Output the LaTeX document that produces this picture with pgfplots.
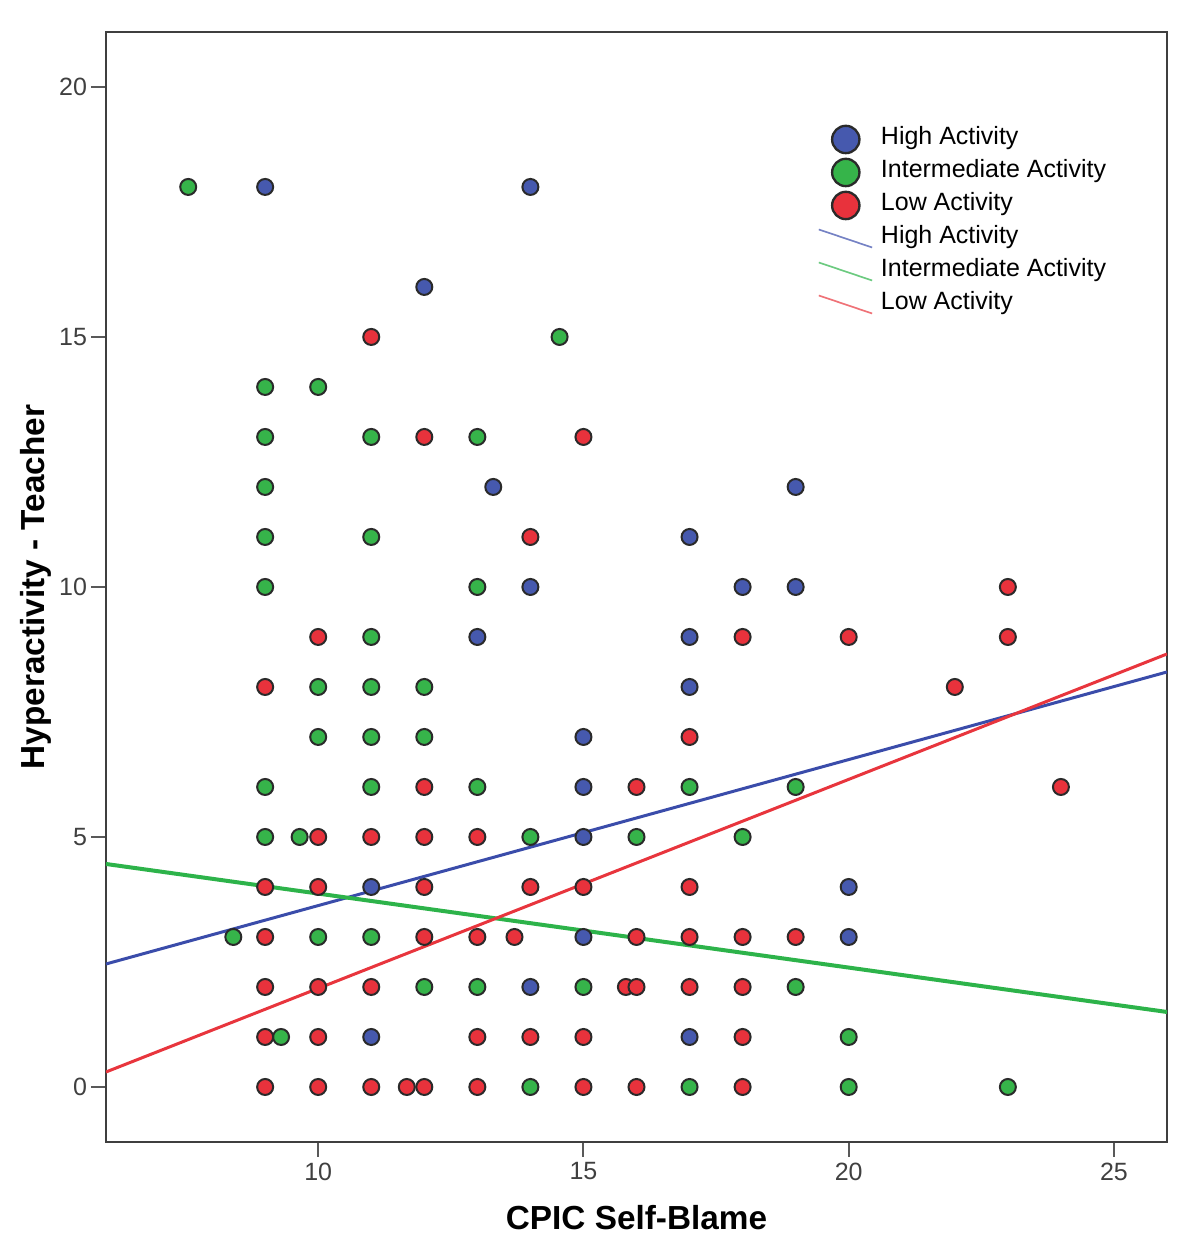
\documentclass[border=0pt]{standalone}
\usepackage{pgfplots}
\pgfplotsset{compat=1.18}
\usepackage{pgfplotstable}
\usepackage{fontspec}
\setmainfont{Liberation Sans}
\definecolor{hiF}{HTML}{4659AE}
\definecolor{imF}{HTML}{36B44A}
\definecolor{loF}{HTML}{E8323C}
\definecolor{hiL}{HTML}{3A4CAA}
\definecolor{imL}{HTML}{2DB34A}
\definecolor{loL}{HTML}{E8353D}
\definecolor{edge}{HTML}{2A2A2A}

\pgfplotstableread{
x y
9 18
14 18
12 16
13.3 12
19 12
17 11
14 10
18 10
19 10
13 9
17 9
17 8
15 7
15 6
15 5
11 4
20 4
15 3
20 3
14 2
11 1
17 1
}\high

\pgfplotstableread{
x y
7.55 18
14.55 15
9 14
10 14
9 13
11 13
13 13
9 12
9 11
11 11
9 10
13 10
11 9
10 8
11 8
12 8
10 7
11 7
12 7
9 6
11 6
13 6
17 6
19 6
9 5
9.65 5
14 5
16 5
18 5
8.4 3
10 3
11 3
12 2
13 2
15 2
19 2
9.3 1
20 1
14 0
17 0
20 0
23 0
}\inter

\pgfplotstableread{
x y
11 15
12 13
15 13
14 11
23 10
10 9
18 9
20 9
23 9
9 8
22 8
17 7
12 6
16 6
24 6
10 5
11 5
12 5
13 5
9 4
10 4
12 4
14 4
15 4
17 4
9 3
12 3
13 3
13.7 3
16 3
17 3
18 3
19 3
9 2
10 2
11 2
15.8 2
16 2
17 2
18 2
9 1
10 1
13 1
14 1
15 1
18 1
9 0
10 0
11 0
11.67 0
12 0
13 0
15 0
16 0
18 0
}\low

\begin{document}
\begin{tikzpicture}
\begin{axis}[
  scale only axis,
  width=318.3pt, height=333pt,
  xmin=6, xmax=26, ymin=-1.1, ymax=21.1,
  xtick={10,15,20,25}, ytick={0,5,10,15,20},
  tick pos=left,
  tick align=outside,
  major tick length=4.5pt,
  axis line style={edge!90, line width=0.7pt},
  tick style={black!65, line width=0.6pt},
  ticklabel style={font=\fontsize{7.5}{9}\selectfont, text=black!75},
  yticklabel style={inner sep=1pt},
  xticklabel style={inner sep=1.5pt},
  /pgf/number format/assume math mode=true,
  xlabel={CPIC Self-Blame},
  ylabel={Hyperactivity - Teacher},
  every axis x label/.style={at={(axis description cs:0.5,-0.0685)}, anchor=center,
    font=\fontsize{10}{12}\selectfont\bfseries},
  every axis y label/.style={at={(axis description cs:-0.066,0.5)}, rotate=90, anchor=center,
    font=\fontsize{10}{12}\selectfont\bfseries},
  legend style={at={(rel axis cs:0.671,0.918)}, anchor=north west, draw=none, fill=none,
    inner sep=0pt, outer sep=0pt, row sep=0pt, column sep=2.4pt,
    font=\fontsize{7.5}{9}\selectfont,
    nodes={inner sep=0pt, text height=6.5pt, text depth=3.4pt}},
  legend cell align=left,
]
\addplot[only marks, mark=*, mark size=2.4pt, mark options={fill=hiF, draw=edge, line width=0.6pt},
  legend image code/.code={\path[draw=none,fill=none] (0pt,-4.95pt) rectangle (16pt,4.95pt);
    \draw[fill=hiF, draw=edge, line width=0.7pt] (8.1pt,0pt) circle (4.1pt);}]
  table[x=x, y=y] {\high};
\addlegendentry{High Activity}
\addplot[only marks, mark=*, mark size=2.4pt, mark options={fill=imF, draw=edge, line width=0.6pt},
  legend image code/.code={\path[draw=none,fill=none] (0pt,-4.95pt) rectangle (16pt,4.95pt);
    \draw[fill=imF, draw=edge, line width=0.7pt] (8.1pt,0pt) circle (4.1pt);}]
  table[x=x, y=y] {\inter};
\addlegendentry{Intermediate Activity}
\addplot[only marks, mark=*, mark size=2.4pt, mark options={fill=loF, draw=edge, line width=0.6pt},
  legend image code/.code={\path[draw=none,fill=none] (0pt,-4.95pt) rectangle (16pt,4.95pt);
    \draw[fill=loF, draw=edge, line width=0.7pt] (8.1pt,0pt) circle (4.1pt);}]
  table[x=x, y=y] {\low};
\addlegendentry{Low Activity}
\addplot[hiL, line width=0.9pt,
  legend image code/.code={\path[draw=none,fill=none] (0pt,-4.95pt) rectangle (16pt,4.95pt);
    \draw[hiL!70, line width=0.5pt] (0pt,2.7pt) -- (16pt,-2.7pt);}]
  coordinates {(6,2.46) (26,8.30)};
\addlegendentry{High Activity}
\addplot[imL, line width=1.2pt,
  legend image code/.code={\path[draw=none,fill=none] (0pt,-4.95pt) rectangle (16pt,4.95pt);
    \draw[imL!70, line width=0.5pt] (0pt,2.7pt) -- (16pt,-2.7pt);}]
  coordinates {(6,4.46) (26,1.50)};
\addlegendentry{Intermediate Activity}
\addplot[loL, line width=0.9pt,
  legend image code/.code={\path[draw=none,fill=none] (0pt,-4.95pt) rectangle (16pt,4.95pt);
    \draw[loL!70, line width=0.5pt] (0pt,2.7pt) -- (16pt,-2.7pt);}]
  coordinates {(6,0.30) (26,8.66)};
\addlegendentry{Low Activity}
\coordinate (bbBL) at (rel axis cs:-0.0999,-0.0964);
\coordinate (bbTR) at (rel axis cs:1.0311,1.0288);
\end{axis}
\path (bbBL) rectangle (bbTR);
\end{tikzpicture}
\end{document}
